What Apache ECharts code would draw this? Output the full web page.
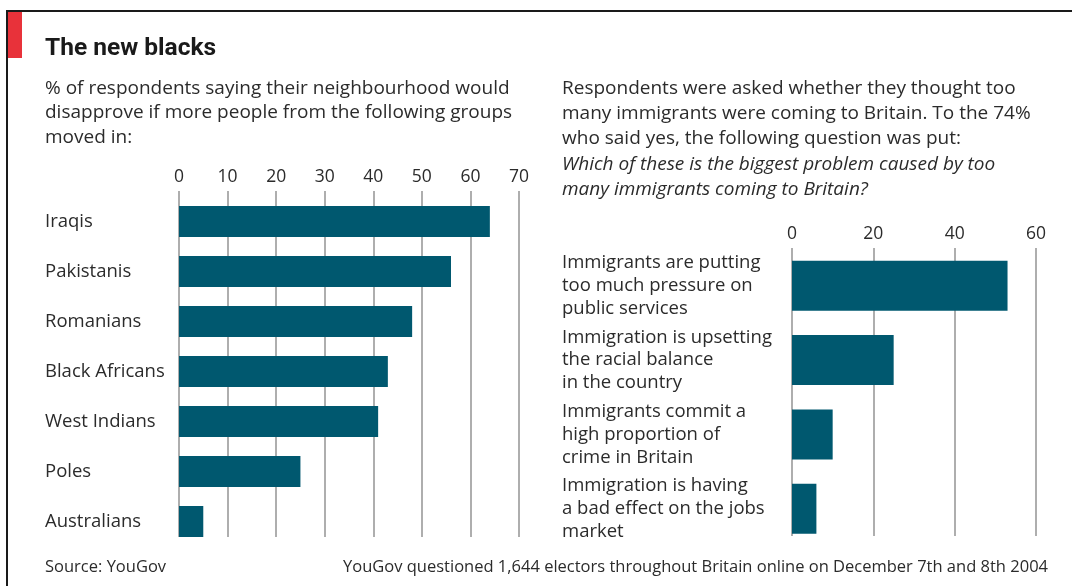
<!DOCTYPE html>
<html><head><meta charset="utf-8">
<script src="https://cdn.jsdelivr.net/npm/echarts@6/dist/echarts.min.js"></script>
<style>html,body{margin:0;padding:0;background:#fff}#c{width:1072px;height:586px}</style>
</head><body><div id="c"></div>
<script>
var groups = ['Iraqis','Pakistanis','Romanians','Black Africans','West Indians','Poles','Australians'];
var groupValues = [64, 56, 48, 43, 41, 25, 5];
var leftTicks = {min: 0, max: 70, interval: 10};

var problems = [
  'Immigrants are putting\ntoo much pressure on\npublic services',
  'Immigration is upsetting\nthe racial balance\nin the country',
  'Immigrants commit a\nhigh proportion of\ncrime in Britain',
  'Immigration is having\na bad effect on the jobs\nmarket'
];
var problemValues = [53, 25, 10, 6];
var rightTicks = {min: 0, max: 60, interval: 20};

var FONT = '"Open Sans", "Noto Sans", sans-serif';
var TFONT = 'Roboto, "Noto Sans", sans-serif';
var BAR = '#00586f';
var GRID = '#9a9a9a';
var TXT = '#2b2b2b';

var chart = echarts.init(document.getElementById('c'), null, {renderer: 'canvas'});

function gridAxis(idx, t) {
  return {
    gridIndex: idx, type: 'value', min: t.min, max: t.max, interval: t.interval,
    position: 'top',
    axisLine: {show: false}, axisTick: {show: false},
    axisLabel: {show: true, color: TXT, fontFamily: FONT, fontSize: 17.5, margin: 5},
    splitLine: {show: true, lineStyle: {color: GRID, width: 1.6}}
  };
}
function barAxis(idx, t) {
  return {
    gridIndex: idx, type: 'value', min: t.min, max: t.max, interval: t.interval,
    show: false, splitLine: {show: false}
  };
}

var option = {
  animation: false,
  backgroundColor: '#fff',
  grid: [
    {left: 179, width: 340, top: 191, height: 346},
    {left: 179, width: 340, top: 196.5, height: 350},
    {left: 792, width: 244, top: 248, height: 288},
    {left: 792, width: 244, top: 248.5, height: 297.5}
  ],
  xAxis: [
    gridAxis(0, leftTicks),
    barAxis(1, leftTicks),
    gridAxis(2, rightTicks),
    barAxis(3, rightTicks)
  ],
  yAxis: [
    {gridIndex: 0, type: 'value', show: false, splitLine: {show: false}},
    {gridIndex: 1, type: 'category', inverse: true, data: groups,
     axisLine: {show: false}, axisTick: {show: false},
     axisLabel: {align: 'left', margin: 134, color: TXT, fontFamily: FONT, fontSize: 18.5}},
    {gridIndex: 2, type: 'value', show: false, splitLine: {show: false}},
    {gridIndex: 3, type: 'category', inverse: true, data: problems,
     axisLine: {show: false}, axisTick: {show: false},
     axisLabel: {align: 'left', margin: 230, color: TXT, fontFamily: FONT, fontSize: 18.5, lineHeight: 22.8}}
  ],
  series: [
    {type: 'bar', xAxisIndex: 1, yAxisIndex: 1, data: groupValues, barWidth: 31,
     itemStyle: {color: BAR}, silent: true},
    {type: 'bar', xAxisIndex: 3, yAxisIndex: 3, data: problemValues, barWidth: 50,
     itemStyle: {color: BAR}, silent: true}
  ],
  graphic: [
    {type: 'line', shape: {x1: 6, y1: 11, x2: 1072, y2: 11}, style: {stroke: '#1a1a1a', lineWidth: 2}},
    {type: 'line', shape: {x1: 7, y1: 11, x2: 7, y2: 586}, style: {stroke: '#1a1a1a', lineWidth: 2}},
    {type: 'rect', shape: {x: 8, y: 12, width: 14, height: 46}, style: {fill: '#e8323a'}},
    {type: 'text', x: 45, y: 49, style: {text: 'The new blacks', font: 'bold 24.5px ' + TFONT, fill: '#1a1a1a', verticalAlign: 'middle'}},
    {type: 'text', x: 45, y: 76, style: {text: '% of respondents saying their neighbourhood would\ndisapprove if more people from the following groups\nmoved in:', font: '19px ' + FONT, lineHeight: 24.5, fill: TXT, verticalAlign: 'top'}},
    {type: 'text', x: 562, y: 76, style: {text: 'Respondents were asked whether they thought too\nmany immigrants were coming to Britain. To the 74%\nwho said yes, the following question was put:', font: '19px ' + FONT, lineHeight: 25, fill: TXT, verticalAlign: 'top'}},
    {type: 'text', x: 562, y: 152.5, style: {text: 'Which of these is the biggest problem caused by too\nmany immigrants coming to Britain?', font: 'italic 19px ' + FONT, lineHeight: 25, fill: TXT, verticalAlign: 'top'}},
    {type: 'text', x: 45, y: 567, style: {text: 'Source: YouGov', font: '16.5px ' + FONT, fill: TXT, verticalAlign: 'middle'}},
    {type: 'text', x: 1048, y: 567, style: {text: 'YouGov questioned 1,644 electors throughout Britain online on December 7th and 8th 2004', font: '16.5px ' + FONT, fill: TXT, align: 'right', verticalAlign: 'middle'}}
  ]
};
chart.setOption(option);
</script>
</body></html>
